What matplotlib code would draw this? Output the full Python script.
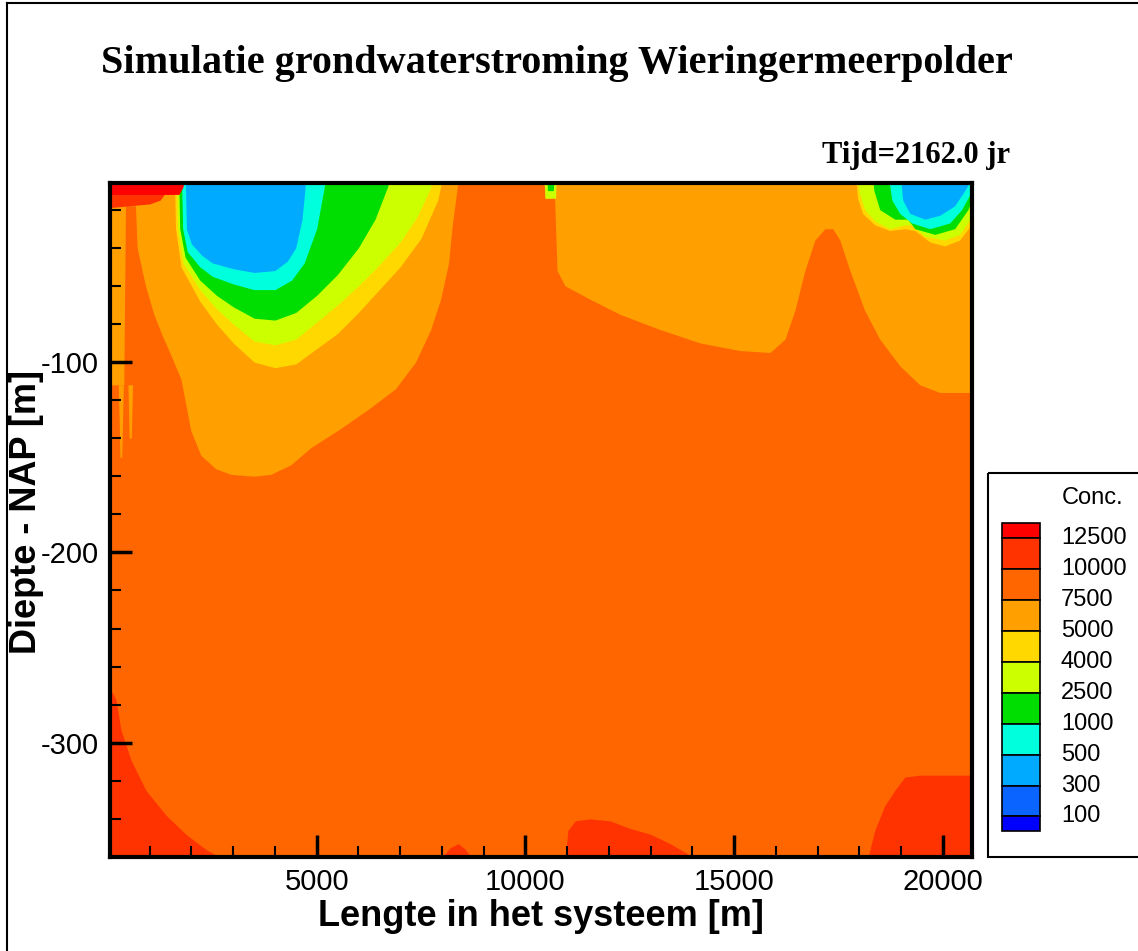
import matplotlib
matplotlib.use("Agg")
import matplotlib.pyplot as plt
from matplotlib.patches import Rectangle
from matplotlib.ticker import MultipleLocator

plt.rcParams['axes.unicode_minus'] = False
SANS = ['Liberation Sans', 'DejaVu Sans']
SERIF = ['Liberation Serif', 'DejaVu Serif']

# ---------------- data ----------------
legend_levels = [12500, 10000, 7500, 5000, 4000, 2500, 1000, 500, 300, 100]
band_colors = ["#FF0000", "#FF3300", "#FF6600", "#FFA000", "#FFD800", "#CCFF00",
               "#00DD00", "#00FFDD", "#00AAFF", "#0A64FF", "#0000FF"]

# isoline depths (m, NAP) along x (m)
# 7500 isoline, left zone (conc < 7500 above it)
iso7500_left_x = [0, 380, 420, 660, 700, 900, 1100, 1300, 1500, 1750, 1985, 2225, 2580, 2940,
                  3500, 3900, 4380, 4860, 5570, 6290, 6890, 7370, 7730, 7970, 8160, 8250, 8370, 8450]
iso7500_left_d = [-112, -112, -18, -18, -40, -60, -75, -86, -96, -109, -136, -149, -156, -159,
                  -160, -159, -154, -145, -135, -124, -114, -100, -83, -67, -48, -28, -8, 0]
# thin streaks of conc < 7500 in the left part
streak1_x = [250, 290, 330, 370]
streak1_d = [-112, -150, -150, -112]
streak2_x = [480, 510, 560, 590]
streak2_d = [-112, -140, -140, -112]
# 7500 isoline, right zone
iso7500_right_x = [10430, 10480, 10700, 10760, 10950, 11545, 12270, 13230, 14185, 15140, 15860,
                   16220, 16455, 16695, 16935, 17175, 17365, 17535, 17775, 18130, 18490, 18970,
                   19450, 19925, 20750]
iso7500_right_d = [0, -14, -14, -52, -60, -67, -75, -83, -90, -94, -95,
                   -88, -73, -52, -36, -30, -30, -36, -52, -73, -88, -102,
                   -112, -116, -116]
# left fresh-water lens
iso5000_left_x = [1590, 1620, 1750, 2200, 2600, 3000, 3500, 4000, 4500, 5000, 5500, 6000, 6500, 7000, 7500, 7900, 8050]
iso5000_left_d = [0, -30, -50, -68, -80, -90, -100, -103, -101, -93, -85, -74, -62, -50, -35, -15, 0]
iso4000_left_x = [1640, 1670, 1800, 2200, 2600, 3000, 3500, 4000, 4500, 5000, 5500, 6000, 6500, 7000, 7400, 7700, 7850]
iso4000_left_d = [0, -30, -48, -62, -72, -80, -89, -91, -88, -79, -70, -60, -49, -37, -24, -10, 0]
iso2500_left_x = [1690, 1720, 1850, 2200, 2600, 3000, 3500, 4000, 4500, 5000, 5500, 6000, 6400, 6700, 6800]
iso2500_left_d = [0, -30, -45, -57, -65, -71, -77, -78, -74, -65, -54, -40, -25, -8, 0]
iso1000_left_x = [1760, 1790, 1900, 2200, 2500, 3000, 3500, 4000, 4400, 4700, 5000, 5150, 5250]
iso1000_left_d = [0, -30, -42, -50, -55, -59, -62, -62, -57, -48, -30, -12, 0]
iso500_left_x = [1850, 1880, 2000, 2250, 2500, 3000, 3500, 4000, 4300, 4500, 4650, 4760]
iso500_left_d = [0, -30, -38, -44, -48, -51, -53, -52, -47, -40, -25, 0]
# right fresh-water lens
iso5000_right_x = [17895, 17960, 18080, 18370, 18730, 19090, 19330, 19690, 20045, 20400, 20750]
iso5000_right_d = [0, -14, -22, -28, -31, -30, -31, -37, -39, -36, -26]
iso4000_right_x = [17940, 18010, 18130, 18370, 18730, 19090, 19255, 19570, 20045, 20400, 20750]
iso4000_right_d = [0, -12, -20, -26, -30, -28, -28, -34, -36, -33, -22]
iso2500_right_x = [18300, 18350, 18490, 18850, 19160, 19330, 19810, 20285, 20600, 20750]
iso2500_right_d = [0, -10, -20, -25, -25, -30, -33, -30, -20, -12]
iso1000_right_x = [18680, 18780, 18970, 19255, 19690, 20165, 20450, 20750]
iso1000_right_d = [0, -15, -22, -27, -30, -27, -20, -8]
iso500_right_x = [18970, 19040, 19210, 19570, 19925, 20285, 20525, 20750]
iso500_right_d = [0, -15, -22, -25, -23, -18, -10, -2]
# small blob at the top near x = 10600
iso4000_blob_x = [10440, 10470, 10720, 10750]
iso4000_blob_d = [0, -14, -14, 0]
iso2500_blob_x = [10510, 10530, 10670, 10700]
iso2500_blob_d = [0, -10, -10, 0]
# 10000 isolines near the bottom (conc > 10000 below them)
iso10000_bot1_x = [0, 190, 310, 550, 910, 1390, 1865, 2345, 2750]
iso10000_bot1_d = [-270, -277, -293, -309, -325, -338, -348, -356, -361]
iso10000_bot2_x = [7965, 8205, 8396, 8563, 8730]
iso10000_bot2_d = [-361, -355, -353, -356, -361]
iso10000_bot3_x = [10950, 11020, 11195, 11545, 12030, 12510, 12990, 13470, 13945, 14200]
iso10000_bot3_d = [-361, -346, -341, -340, -341, -345, -348, -353, -359, -361]
iso10000_bot4_x = [18200, 18370, 18610, 18850, 19090, 19450, 20750]
iso10000_bot4_d = [-361, -346, -333, -325, -318, -317, -317]
# top-left saline patch (conc > 10000 / > 12500 above the lines)
iso10000_top_x = [0, 500, 1000, 1250, 1350]
iso10000_top_d = [-19, -18, -17, -15, -12]
iso12500_top_x = [0, 1700, 1800, 1850]
iso12500_top_d = [-12, -12, -8, 0]

# ---------------- figure ----------------
W, H = 1138, 951
fig = plt.figure(figsize=(W / 100, H / 100), dpi=100)
ax = fig.add_axes([110 / W, 1 - 857 / H, (972 - 110) / W, (857 - 183) / H])
ax.set_facecolor(band_colors[2])

SURF = 0
BOT = -361


def fill_above(x, d, c, top=SURF):
    ax.fill_between(x, d, top, color=c, lw=0)


def fill_below(x, d, c):
    ax.fill_between(x, BOT, d, color=c, lw=0)


# light orange (5000-7500)
fill_above(iso7500_left_x, iso7500_left_d, band_colors[3])
fill_above(streak1_x, streak1_d, band_colors[3], top=-112)
fill_above(streak2_x, streak2_d, band_colors[3], top=-112)
fill_above(iso7500_right_x, iso7500_right_d, band_colors[3])
# left lens
fill_above(iso5000_left_x, iso5000_left_d, band_colors[4])
fill_above(iso4000_left_x, iso4000_left_d, band_colors[5])
fill_above(iso2500_left_x, iso2500_left_d, band_colors[6])
fill_above(iso1000_left_x, iso1000_left_d, band_colors[7])
fill_above(iso500_left_x, iso500_left_d, band_colors[8])
# right lens
fill_above(iso5000_right_x, iso5000_right_d, band_colors[4])
fill_above(iso4000_right_x, iso4000_right_d, band_colors[5])
fill_above(iso2500_right_x, iso2500_right_d, band_colors[6])
fill_above(iso1000_right_x, iso1000_right_d, band_colors[7])
fill_above(iso500_right_x, iso500_right_d, band_colors[8])
# blob
fill_above(iso4000_blob_x, iso4000_blob_d, band_colors[5])
fill_above(iso2500_blob_x, iso2500_blob_d, band_colors[6])
# saline zones
for bx, bd in [(iso10000_bot1_x, iso10000_bot1_d), (iso10000_bot2_x, iso10000_bot2_d),
               (iso10000_bot3_x, iso10000_bot3_d), (iso10000_bot4_x, iso10000_bot4_d)]:
    fill_below(bx, bd, band_colors[1])
fill_above(iso10000_top_x, iso10000_top_d, band_colors[1])
fill_above(iso12500_top_x, iso12500_top_d, band_colors[0])

ax.set_xlim(50, 20700)
ax.set_ylim(-360, -6)
ax.xaxis.set_major_locator(MultipleLocator(5000))
ax.xaxis.set_minor_locator(MultipleLocator(1000))
ax.yaxis.set_major_locator(MultipleLocator(100))
ax.yaxis.set_minor_locator(MultipleLocator(20))
ax.tick_params(which='major', direction='in', length=16, width=2.5, pad=8,
               top=False, right=False)
ax.tick_params(which='minor', direction='in', length=8, width=1.5, top=False, right=False)
for lab in ax.get_xticklabels() + ax.get_yticklabels():
    lab.set_family(SANS)
    lab.set_fontsize(21)
for sp in ax.spines.values():
    sp.set_linewidth(3)

ax.set_xlabel("Lengte in het systeem [m]", family=SANS, fontsize=26, fontweight='bold')
ax.xaxis.set_label_coords((541 - 110) / 862, -(899 - 857) / 674)
ax.set_ylabel("Diepte - NAP [m]", family=SANS, fontsize=26, fontweight='bold')
ax.yaxis.set_label_coords(-(110 - 44) / 862, (857 - 512) / 674)

# overlay in pixel coordinates for titles and legend
ov = fig.add_axes([0, 0, 1, 1], facecolor='none')
ov.set_xlim(0, W)
ov.set_ylim(H, 0)
ov.axis('off')

ov.text(557, 63, "Simulatie grondwaterstroming Wieringermeerpolder", ha='center', va='center',
        family=SERIF, fontsize=29, fontweight='bold')
ov.text(1010, 155, "Tijd=2162.0 jr", ha='right', va='center', family=SERIF, fontsize=22,
        fontweight='bold')

# legend box
ov.add_patch(Rectangle((988, 473), 200, 384, fill=False, edgecolor='black', lw=1.5))
ov.text(1093, 498, "Conc.", ha='center', va='center', family=SANS, fontsize=17)
bounds = [523, 538, 569, 600, 631, 662, 693, 724, 755, 786, 816, 831]
for i, c in enumerate(band_colors):
    ov.add_patch(Rectangle((1002, bounds[i]), 38, bounds[i + 1] - bounds[i],
                           facecolor=c, edgecolor='black', lw=1.2))
for i, lv in enumerate(legend_levels):
    ov.text(1061, bounds[i + 1], str(lv), ha='left', va='center', family=SANS, fontsize=17)

# outer frame
ov.plot([7, 7], [3, 951], color='black', lw=1.5)
ov.plot([7, 1138], [3, 3], color='black', lw=1.5)

fig.savefig("out.png", dpi=100)
